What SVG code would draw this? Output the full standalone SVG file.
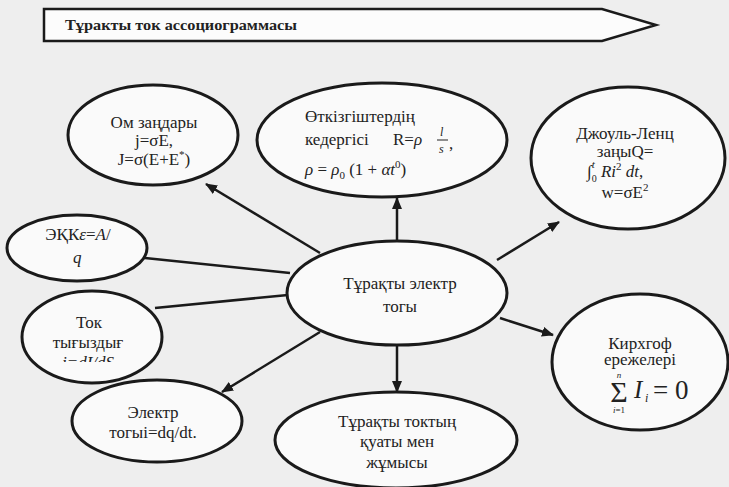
<svg xmlns="http://www.w3.org/2000/svg" width="729" height="487" viewBox="0 0 729 487">
<style>
.bg{fill:#eeeeee}
.node{fill:#fafafa;stroke:#1a1a1a;stroke-width:3}
.t{font-family:"Liberation Serif",serif;font-size:17px;fill:#222;text-anchor:middle}
.m{font-family:"Liberation Serif",serif;font-size:17px;fill:#222;font-style:italic}
.s{font-family:"Liberation Serif",serif;fill:#222}
.c line{stroke:#1a1a1a;stroke-width:2.5}
</style>
<defs>
<marker id="ah" viewBox="0 0 12 10" refX="11" refY="5" markerWidth="12" markerHeight="10" markerUnits="userSpaceOnUse" orient="auto">
<path d="M0,0 L12,5 L0,10 Z" fill="#1a1a1a"/>
</marker>
<clipPath id="tokclip"><rect x="0" y="290" width="200" height="72"/></clipPath>
</defs>
<rect class="bg" x="0" y="0" width="729" height="487"/>

<g id="title">
<polygon points="44,9 602,9 656,25 602,41 44,41" fill="#fcfcfc" stroke="#1a1a1a" stroke-width="2.5"/>
<text x="65" y="30" font-family="'Liberation Serif',serif" font-weight="bold" font-size="14" fill="#222" textLength="232" lengthAdjust="spacingAndGlyphs">Тұракты ток ассоциограммасы</text>
</g>

<g class="c" id="connectors">
<line x1="397" y1="240" x2="397" y2="198" marker-end="url(#ah)"/>
<line x1="320" y1="253" x2="206" y2="184" marker-end="url(#ah)"/>
<line x1="145" y1="258" x2="290" y2="273"/>
<line x1="155" y1="308" x2="288" y2="295"/>
<line x1="320" y1="332" x2="222" y2="392" marker-end="url(#ah)"/>
<line x1="397" y1="346" x2="397" y2="392" marker-end="url(#ah)"/>
<line x1="497" y1="260" x2="559" y2="222" marker-end="url(#ah)"/>
<line x1="500" y1="318" x2="553" y2="335" marker-end="url(#ah)"/>
</g>

<g id="om">
<ellipse class="node" cx="153" cy="135" rx="85" ry="50"/>
<text class="t" x="154" y="128">Ом заңдары</text>
<text class="t" x="154" y="146">j=σE,</text>
<text class="t" x="154" y="165">J=σ(E+E<tspan font-size="11" dy="-7">*</tspan><tspan dy="7">)</tspan></text>
</g>

<g id="otkizgish">
<ellipse class="node" cx="382" cy="140" rx="125" ry="57"/>
<text class="s" x="305" y="122" font-size="17">Өткізгіштердің</text>
<text class="s" x="305" y="145" font-size="17">кедергісі</text>
<text class="s" x="393" y="145" font-size="17">R=<tspan font-style="italic">ρ</tspan></text>
<text class="s" x="440" y="136" font-size="12" font-style="italic">l</text>
<line x1="437" y1="140" x2="448" y2="140" stroke="#222" stroke-width="1"/>
<text class="s" x="439" y="153" font-size="12" font-style="italic">s</text>
<text class="s" x="449" y="149" font-size="17">,</text>
<text class="m" x="305" y="175">ρ <tspan font-style="normal">=</tspan> ρ<tspan font-size="11" dy="4" font-style="normal">0</tspan><tspan dy="-4" font-style="normal"> (1 + </tspan>αt<tspan font-size="11" dy="-7" font-style="normal">0</tspan><tspan dy="7" font-style="normal">)</tspan></text>
</g>

<g id="joule">
<ellipse class="node" cx="628" cy="158" rx="97" ry="71"/>
<text class="t" x="625" y="139">Джоуль-Ленц</text>
<text class="t" x="625" y="157">заңыQ=</text>
<text class="m" x="587" y="177" font-size="18">∫<tspan font-size="10" font-style="normal" dx="0" dy="5">0</tspan><tspan font-size="11" dx="-5" dy="-14">t</tspan><tspan dy="9" dx="2"> Ri</tspan><tspan font-size="11" font-style="normal" dy="-7">2</tspan><tspan dy="7"> dt</tspan><tspan font-style="normal">,</tspan></text>
<text class="t" x="625" y="198">w=σE<tspan font-size="11" dy="-7">2</tspan></text>
</g>

<g id="ekk">
<ellipse class="node" cx="77" cy="248" rx="70" ry="33"/>
<text class="t" x="78" y="240">ЭҚК<tspan font-style="italic">ε</tspan>=<tspan font-style="italic">A</tspan>/</text>
<text class="m" x="73" y="263">q</text>
</g>

<g id="tok">
<ellipse class="node" cx="92" cy="337" rx="70" ry="46"/>
<text class="t" x="89" y="328">Ток</text>
<text class="t" x="88" y="348">тығыздығ</text>
<text class="m" x="88" y="368" text-anchor="middle" clip-path="url(#tokclip)">j=dI/dS</text>
</g>

<g id="elektr">
<ellipse class="node" cx="157" cy="421" rx="85" ry="41"/>
<text class="t" x="153" y="418">Электр</text>
<text class="t" x="153" y="438">тогыі=dq/dt.</text>
</g>

<g id="center">
<ellipse class="node" cx="397" cy="293" rx="110" ry="52"/>
<text class="t" x="400" y="289">Тұрақты электр</text>
<text class="t" x="400" y="312">тогы</text>
</g>

<g id="kirchhoff">
<ellipse class="node" cx="640" cy="362" rx="88" ry="68"/>
<text class="t" x="640" y="349">Кирхгоф</text>
<text class="t" x="640" y="365">ережелері</text>
<text class="s" x="619" y="378" font-size="9" font-style="italic" text-anchor="middle">n</text>
<text class="s" x="619" y="402" font-size="30" text-anchor="middle">Σ</text>
<text class="s" x="619" y="413" font-size="9" text-anchor="middle"><tspan font-style="italic">i</tspan>=1</text>
<text class="s" x="634" y="398" font-size="25" font-style="italic">I</text>
<text class="s" x="645" y="402" font-size="12" font-style="italic">i</text>
<text class="s" x="653" y="399" font-size="27">= 0</text>
</g>

<g id="quat">
<ellipse class="node" cx="396" cy="440" rx="121" ry="48"/>
<text class="t" x="397" y="427">Тұрақты токтың</text>
<text class="t" x="397" y="447">қуаты мен</text>
<text class="t" x="397" y="468">жұмысы</text>
</g>
</svg>
